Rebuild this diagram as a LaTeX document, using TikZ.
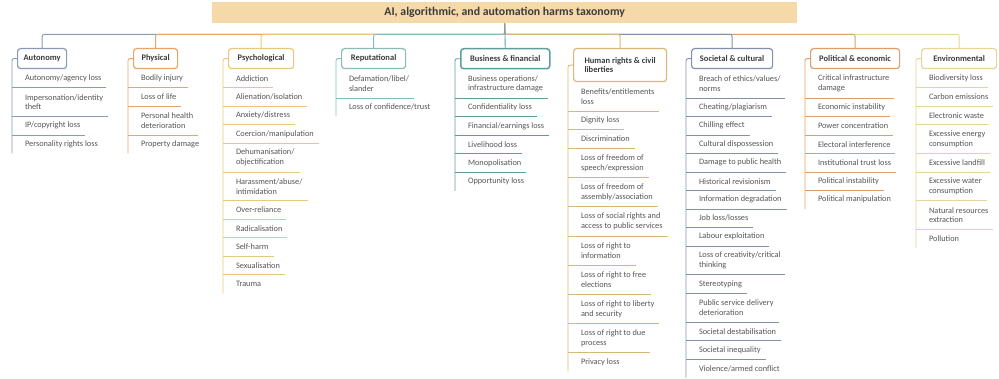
\documentclass[tikz,border=0pt]{standalone}
\usepackage{fontspec}
\setmainfont{Carlito}
\definecolor{cAut}{HTML}{8A9AB5}
\definecolor{cPhy}{HTML}{E9A567}
\definecolor{cPsy}{HTML}{E8C77E}
\definecolor{cRep}{HTML}{86BDB5}
\definecolor{cBus}{HTML}{5E9E9C}
\definecolor{cHR}{HTML}{D9B779}
\definecolor{cSoc}{HTML}{8190AB}
\definecolor{cPol}{HTML}{D9A06E}
\definecolor{cEnv}{HTML}{E6D49A}
\definecolor{titlefill}{HTML}{F6D9A8}
\definecolor{txt}{HTML}{3C3C3C}
\definecolor{itxt}{HTML}{555555}
\newcommand\itemfont{\fontsize{8.3}{9.6}\selectfont}
\newcommand\catfont{\fontsize{8.5}{9.9}\selectfont\bfseries}
\newcommand\ttlfont{\fontsize{11.8}{13}\selectfont\bfseries}
\newcommand\ul[3]{\draw[#1,link] (#2 |- #3.south) -- ([xshift=5pt]#3.south east);}
\tikzset{
  cat/.style={draw=#1, line width=1.2pt, rounded corners=3pt, fill=white,
    minimum height=20pt, inner xsep=4pt, inner ysep=1pt, font=\catfont,
    text=txt, anchor=north west},
  item/.style={anchor=north west, inner xsep=0pt, inner ysep=0pt, outer sep=0pt,
    minimum height=18.5pt, align=left, font=\itemfont, text=itxt},
  dbl/.style={minimum height=28.8pt},
  dblh/.style={minimum height=29.2pt},
  link/.style={line width=0.9pt},
  elbow/.style={link, rounded corners=2pt}
}
\begin{document}
\begin{tikzpicture}[x=1pt,y=-1pt]
\useasboundingbox (0,0) rectangle (999,379);
% title
\node[fill=titlefill, minimum width=585pt, minimum height=21pt, anchor=north west,
  font=\ttlfont, text=txt, inner sep=0pt] (title) at (212,2)
  {AI, algorithmic, and automation harms taxonomy};
\path (title.south) ++(0,11) coordinate (bus);
% category boxes
\node[cat=cAut, minimum width=49pt] (aut) at (17,48) {Autonomy};
\node[cat=cPhy, minimum width=44pt] (phy) at (133,48) {Physical};
\node[cat=cPsy, minimum width=65pt] (psy) at (228,48) {Psychological};
\node[cat=cRep, minimum width=64pt] (rep) at (341,48) {Reputational};
\node[cat=cBus, minimum width=89pt, line width=1.5pt] (bus1) at (460,48) {Business \& financial};
\node[cat=cHR, minimum width=93pt, minimum height=33pt, align=left] (hr) at (573,48) {Human rights \& civil\\liberties};
\node[cat=cSoc, minimum width=81pt] (soc) at (691,48) {Societal \& cultural};
\node[cat=cPol, minimum width=89pt] (pol) at (810,48) {Political \& economic};
\node[cat=cEnv, minimum width=75pt] (env) at (921,48) {Environmental};
% tree connectors
\draw[cAut,elbow] (title.south) -- (bus) -| (aut.north);
\draw[cEnv,elbow] (title.south) -- (bus) -| (env.north);
\draw[cPhy,elbow] (title.south) -- (bus) -| (phy.north);
\draw[cPol,elbow] (title.south) -- (bus) -| (pol.north);
\draw[cPsy,elbow] (title.south) -- (bus) -| (psy.north);
\draw[cSoc,elbow] (title.south) -- (bus) -| (soc.north);
\draw[cRep,elbow] (title.south) -- (bus) -| (rep.north);
\draw[cHR,elbow] (title.south) -- (bus) -| (hr.north);
\draw[cBus,link] (title.south) -- (bus1.north);
% rule coordinates
\coordinate (rA) at (12,0);
\coordinate (rB) at (128,0);
\coordinate (rC) at (223,0);
\coordinate (rD) at (336,0);
\coordinate (rE) at (455,0);
\coordinate (rF) at (568,0);
\coordinate (rG) at (686,0);
\coordinate (rH) at (805,0);
\coordinate (rI) at (916,0);
% Autonomy
\node[item] (a1) at ([xshift=8pt]aut.south west) {Autonomy/agency loss};
\node[item,dbl] (a2) at (a1.south west) {Impersonation/identity\\theft};
\node[item] (a3) at (a2.south west) {IP/copyright loss};
\node[item] (a4) at (a3.south west) {Personality rights loss};
\foreach \n in {a1,a2,a3}{\ul{cAut}{rA}{\n}}
\draw[cAut,elbow] (aut.west) -| (rA |- a4.south);
% Physical
\node[item] (b1) at ([xshift=8pt]phy.south west) {Bodily injury};
\node[item] (b2) at (b1.south west) {Loss of life};
\node[item,dbl] (b3) at (b2.south west) {Personal health\\deterioration};
\node[item] (b4) at (b3.south west) {Property damage};
\foreach \n in {b1,b2,b3}{\ul{cPhy}{rB}{\n}}
\draw[cPhy,elbow] (phy.west) -| (rB |- b4.south);
% Psychological
\node[item] (c1) at ([xshift=8pt]psy.south west) {Addiction};
\node[item] (c2) at (c1.south west) {Alienation/isolation};
\node[item] (c3) at (c2.south west) {Anxiety/distress};
\node[item] (c4) at (c3.south west) {Coercion/manipulation};
\node[item,dbl] (c5) at (c4.south west) {Dehumanisation/\\objectification};
\node[item,dbl] (c6) at (c5.south west) {Harassment/abuse/\\intimidation};
\node[item] (c7) at (c6.south west) {Over-reliance};
\node[item] (c8) at (c7.south west) {Radicalisation};
\node[item] (c9) at (c8.south west) {Self-harm};
\node[item] (c10) at (c9.south west) {Sexualisation};
\node[item] (c11) at (c10.south west) {Trauma};
\foreach \n in {c1,c2,c3,c4,c5,c6,c7,c8,c9,c10}{\ul{cPsy}{rC}{\n}}
\draw[cPsy,elbow] (psy.west) -| (rC |- c11.south);
% Reputational
\node[item,dbl] (d1) at ([xshift=8pt]rep.south west) {Defamation/libel/\\slander};
\node[item] (d2) at (d1.south west) {Loss of confidence/trust};
\ul{cRep}{rD}{d1}
\draw[cRep,elbow] (rep.west) -| (rD |- d2.south);
% Business & financial
\node[item,dbl] (e1) at ([xshift=8pt]bus1.south west) {Business operations/\\infrastructure damage};
\node[item] (e2) at (e1.south west) {Confidentiality loss};
\node[item] (e3) at (e2.south west) {Financial/earnings loss};
\node[item] (e4) at (e3.south west) {Livelihood loss};
\node[item] (e5) at (e4.south west) {Monopolisation};
\node[item] (e6) at (e5.south west) {Opportunity loss};
\foreach \n in {e1,e2,e3,e4,e5}{\ul{cBus}{rE}{\n}}
\draw[cBus,elbow] (bus1.west) -| (rE |- e6.south);
% Human rights
\node[item,dblh] (f1) at ([xshift=8pt]hr.south west) {Benefits/entitlements\\loss};
\node[item] (f2) at (f1.south west) {Dignity loss};
\node[item] (f3) at (f2.south west) {Discrimination};
\node[item,dblh] (f4) at (f3.south west) {Loss of freedom of\\speech/expression};
\node[item,dblh] (f5) at (f4.south west) {Loss of freedom of\\assembly/association};
\node[item,dblh] (f6) at (f5.south west) {Loss of social rights and\\access to public services};
\node[item,dblh] (f7) at (f6.south west) {Loss of right to\\information};
\node[item,dblh] (f8) at (f7.south west) {Loss of right to free\\elections};
\node[item,dblh] (f9) at (f8.south west) {Loss of right to liberty\\and security};
\node[item,dblh] (f10) at (f9.south west) {Loss of right to due\\process};
\node[item] (f11) at (f10.south west) {Privacy loss};
\foreach \n in {f1,f2,f3,f4,f5,f6,f7,f8,f9,f10}{\ul{cHR}{rF}{\n}}
\draw[cHR,elbow] (hr.west) -| (rF |- f11.south);
% Societal & cultural
\node[item,dbl] (g1) at ([xshift=8pt]soc.south west) {Breach of ethics/values/\\norms};
\node[item] (g2) at (g1.south west) {Cheating/plagiarism};
\node[item] (g3) at (g2.south west) {Chilling effect};
\node[item] (g4) at (g3.south west) {Cultural dispossession};
\node[item] (g5) at (g4.south west) {Damage to public health};
\node[item] (g6) at (g5.south west) {Historical revisionism};
\node[item] (g7) at (g6.south west) {Information degradation};
\node[item] (g8) at (g7.south west) {Job loss/losses};
\node[item] (g9) at (g8.south west) {Labour exploitation};
\node[item,dbl] (g10) at (g9.south west) {Loss of creativity/critical\\thinking};
\node[item] (g11) at (g10.south west) {Stereotyping};
\node[item,dbl] (g12) at (g11.south west) {Public service delivery\\deterioration};
\node[item] (g13) at (g12.south west) {Societal destabilisation};
\node[item] (g14) at (g13.south west) {Societal inequality};
\node[item] (g15) at (g14.south west) {Violence/armed conflict};
\foreach \n in {g1,g2,g3,g4,g5,g6,g7,g8,g9,g10,g11,g12,g13,g14}{\ul{cSoc}{rG}{\n}}
\draw[cSoc,elbow] (soc.west) -| (rG |- g15.south);
% Political & economic
\node[item,dbl] (h1) at ([xshift=8pt]pol.south west) {Critical infrastructure\\damage};
\node[item] (h2) at (h1.south west) {Economic instability};
\node[item] (h3) at (h2.south west) {Power concentration};
\node[item] (h4) at (h3.south west) {Electoral interference};
\node[item] (h5) at (h4.south west) {Institutional trust loss};
\node[item] (h6) at (h5.south west) {Political instability};
\node[item] (h7) at (h6.south west) {Political manipulation};
\foreach \n in {h1,h2,h3,h4,h5,h6}{\ul{cPol}{rH}{\n}}
\draw[cPol,elbow] (pol.west) -| (rH |- h7.south);
% Environmental
\node[item] (i1) at ([xshift=8pt]env.south west) {Biodiversity loss};
\node[item] (i2) at (i1.south west) {Carbon emissions};
\node[item] (i3) at (i2.south west) {Electronic waste};
\node[item,dbl] (i4) at (i3.south west) {Excessive energy\\consumption};
\node[item] (i5) at (i4.south west) {Excessive landfill};
\node[item,dbl] (i6) at (i5.south west) {Excessive water\\consumption};
\node[item,dbl] (i7) at (i6.south west) {Natural resources\\extraction};
\node[item] (i8) at (i7.south west) {Pollution};
\foreach \n in {i1,i2,i3,i4,i5,i6,i7}{\ul{cEnv}{rI}{\n}}
\draw[cEnv,elbow] (env.west) -| (rI |- i8.south);
\end{tikzpicture}
\end{document}
